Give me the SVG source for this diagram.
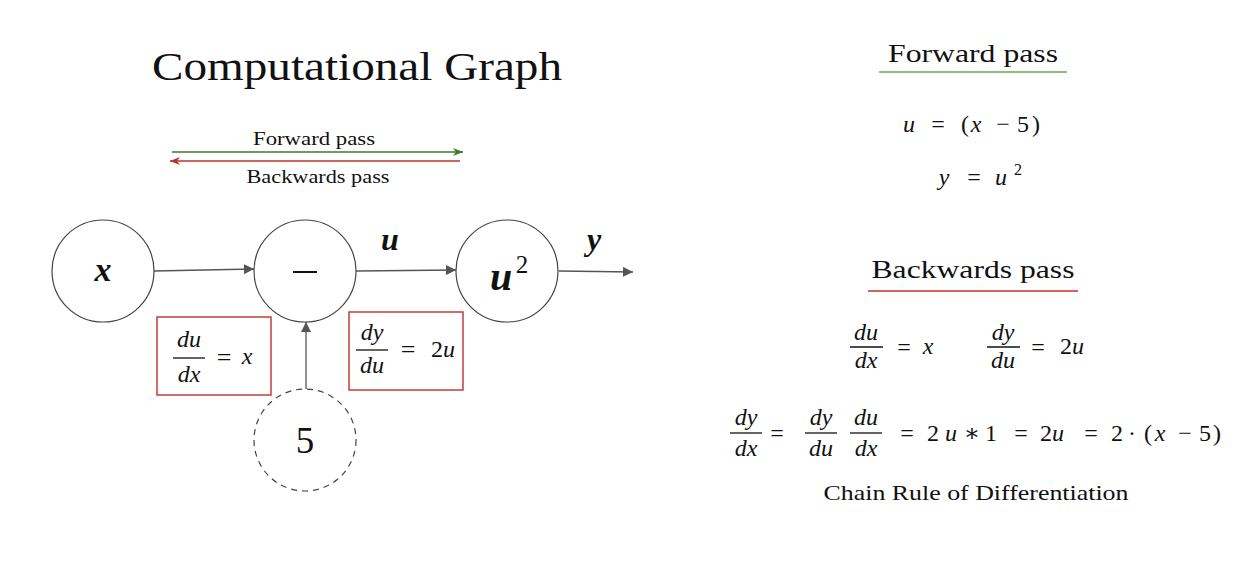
<svg xmlns="http://www.w3.org/2000/svg" width="1254" height="570" viewBox="0 0 1254 570">
<style>
text{font-family:"Liberation Serif","DejaVu Serif",serif;fill:#111}
.m{font-style:italic}
.c{text-anchor:middle}
.node{fill:#fff;stroke:#444;stroke-width:1.2}
.dash{stroke-dasharray:6 5}
.edge{stroke:#555;stroke-width:1.3;fill:none}
.box{fill:#fff;stroke:#c0302a;stroke-width:1.4}
.bar{stroke:#111;stroke-width:1.3}
.eq{font-size:24px}
</style>
<defs>
<marker id="ah" viewBox="0 0 10 10" refX="10" refY="5" markerWidth="10" markerHeight="10" markerUnits="userSpaceOnUse" orient="auto"><path d="M0,0 L10,5 L0,10 Z" fill="#555"/></marker>
<marker id="ahg" viewBox="0 0 10 10" refX="10" refY="5" markerWidth="10" markerHeight="10" markerUnits="userSpaceOnUse" orient="auto"><path d="M0,1 L10,5 L0,9 L3,5 Z" fill="#3d7a2a"/></marker>
<marker id="ahr" viewBox="0 0 10 10" refX="10" refY="5" markerWidth="10" markerHeight="10" markerUnits="userSpaceOnUse" orient="auto"><path d="M0,1 L10,5 L0,9 L3,5 Z" fill="#c0302a"/></marker>
</defs>
<rect width="1254" height="570" fill="#fff"/>

<text x="357" y="80" class="c" font-size="40" textLength="410" lengthAdjust="spacingAndGlyphs">Computational Graph</text>

<g id="legend">
<text x="314" y="145" class="c" font-size="19" textLength="122" lengthAdjust="spacingAndGlyphs">Forward pass</text>
<line x1="172" y1="152" x2="463" y2="152" stroke="#3d7a2a" stroke-width="1.3" marker-end="url(#ahg)"/>
<line x1="460" y1="161" x2="170" y2="161" stroke="#c0302a" stroke-width="1.3" marker-end="url(#ahr)"/>
<text x="318" y="183" class="c" font-size="19" textLength="143" lengthAdjust="spacingAndGlyphs">Backwards pass</text>
</g>

<g id="connectors">
<line class="edge" x1="154" y1="271" x2="254" y2="269" marker-end="url(#ah)"/>
<line class="edge" x1="356" y1="271" x2="456" y2="270" marker-end="url(#ah)"/>
<line class="edge" x1="559" y1="271" x2="633" y2="272" marker-end="url(#ah)"/>
<line class="edge" x1="306" y1="389" x2="306" y2="322" marker-end="url(#ah)"/>
<text x="390" y="250" class="c m" font-size="32" font-weight="bold">u</text>
<text x="594" y="250" class="c m" font-size="32" font-weight="bold">y</text>
</g>

<g id="node-x">
<circle class="node" cx="103" cy="271" r="51"/>
<text x="103" y="281" class="c m" font-size="34" font-weight="bold">x</text>
</g>
<g id="node-minus">
<circle class="node" cx="305" cy="271" r="51"/>
<line x1="293" y1="272" x2="317" y2="272" stroke="#111" stroke-width="2"/>
</g>
<g id="node-u2">
<circle class="node" cx="507" cy="271" r="51"/>
<text x="501" y="290" class="c m" font-size="40" font-weight="bold">u</text>
<text x="522" y="273" class="c" font-size="25">2</text>
</g>
<g id="node-5">
<circle class="node dash" cx="305" cy="440" r="51"/>
<text x="305" y="453" class="c" font-size="37">5</text>
</g>

<g id="box-dudx">
<rect class="box" x="157" y="317" width="114" height="78"/>
<text x="189" y="347" class="c m eq">du</text>
<line class="bar" x1="173" y1="358" x2="205" y2="358"/>
<text x="189" y="382" class="c m eq">dx</text>
<text x="224" y="366" class="c" font-size="26">=</text>
<text x="247" y="364" class="c m eq">x</text>
</g>
<g id="box-dydu">
<rect class="box" x="349" y="312" width="114" height="78"/>
<text x="372" y="340" class="c m eq">dy</text>
<line class="bar" x1="356" y1="350" x2="388" y2="350"/>
<text x="372" y="373" class="c m eq">du</text>
<text x="408" y="358" class="c" font-size="26">=</text>
<text x="431" y="357" class="eq">2<tspan class="m">u</tspan></text>
</g>

<g id="forward-eqs">
<text x="973" y="62" class="c" font-size="26" textLength="170" lengthAdjust="spacingAndGlyphs">Forward pass</text>
<line x1="879" y1="72" x2="1067" y2="72" stroke="#6aa84f" stroke-width="1.3"/>
<text x="909" y="132" class="c m eq">u</text>
<text x="938" y="132" class="c eq">=</text>
<text x="965" y="132" class="c eq">(</text>
<text x="976" y="132" class="c m eq">x</text>
<text x="1003" y="132" class="c eq">−</text>
<text x="1023" y="132" class="c eq">5</text>
<text x="1036" y="132" class="c eq">)</text>
<text x="944" y="185" class="c m eq">y</text>
<text x="974" y="185" class="c eq">=</text>
<text x="1001" y="185" class="c m eq">u</text>
<text x="1018" y="175" class="c" font-size="16">2</text>
</g>

<g id="backward-eqs">
<text x="973" y="278" class="c" font-size="26" textLength="203" lengthAdjust="spacingAndGlyphs">Backwards pass</text>
<line x1="868" y1="291" x2="1078" y2="291" stroke="#c0302a" stroke-width="1.3"/>
<text x="866" y="340" class="c m eq">du</text>
<line class="bar" x1="850" y1="347" x2="883" y2="347"/>
<text x="866" y="368" class="c m eq">dx</text>
<text x="904" y="355" class="c eq">=</text>
<text x="928" y="354" class="c m eq">x</text>
<text x="1003" y="340" class="c m eq">dy</text>
<line class="bar" x1="987" y1="347" x2="1020" y2="347"/>
<text x="1003" y="368" class="c m eq">du</text>
<text x="1038" y="355" class="c eq">=</text>
<text x="1060" y="354" class="eq">2<tspan class="m">u</tspan></text>

<text x="746" y="425" class="c m eq">dy</text>
<line class="bar" x1="730" y1="433" x2="762" y2="433"/>
<text x="746" y="456" class="c m eq">dx</text>
<text x="777" y="441" class="c eq">=</text>
<text x="821" y="425" class="c m eq">dy</text>
<line class="bar" x1="805" y1="433" x2="837" y2="433"/>
<text x="821" y="456" class="c m eq">du</text>
<text x="866" y="425" class="c m eq">du</text>
<line class="bar" x1="850" y1="433" x2="882" y2="433"/>
<text x="866" y="456" class="c m eq">dx</text>
<text x="907" y="441" class="c eq">=</text>
<text x="933" y="441" class="c eq">2</text>
<text x="951" y="441" class="c m eq">u</text>
<text x="972" y="441" class="c eq">∗</text>
<text x="991" y="441" class="c eq">1</text>
<text x="1021" y="441" class="c eq">=</text>
<text x="1040" y="441" class="eq">2<tspan class="m">u</tspan></text>
<text x="1091" y="441" class="c eq">=</text>
<text x="1117" y="441" class="c eq">2</text>
<text x="1132" y="441" class="c eq">·</text>
<text x="1148" y="441" class="c eq">(</text>
<text x="1160" y="441" class="c m eq">x</text>
<text x="1185" y="441" class="c eq">−</text>
<text x="1205" y="441" class="c eq">5</text>
<text x="1217" y="441" class="c eq">)</text>
<text x="976" y="500" class="c" font-size="21" textLength="305" lengthAdjust="spacingAndGlyphs">Chain Rule of Differentiation</text>
</g>
</svg>
